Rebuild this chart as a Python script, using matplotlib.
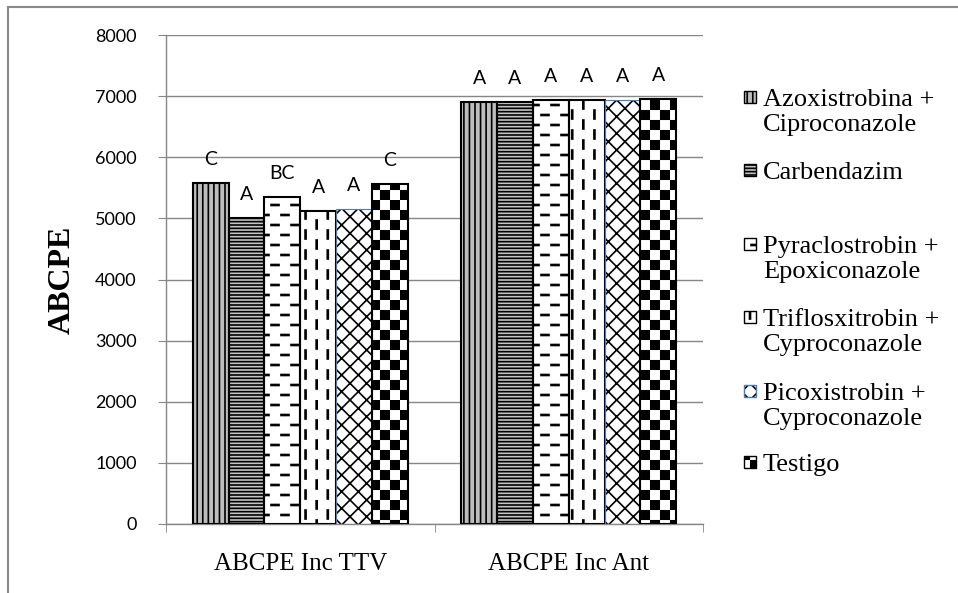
import warnings
import numpy as np
import matplotlib
matplotlib.use('Agg')
import matplotlib.pyplot as plt
from matplotlib import hatch as mhatch
from matplotlib.path import Path
from matplotlib.patches import Rectangle

warnings.filterwarnings('ignore')

categories = ['ABCPE Inc TTV', 'ABCPE Inc Ant']
treatments = ['Azoxistrobina +\nCiproconazole', 'Carbendazim',
              'Pyraclostrobin +\nEpoxiconazole', 'Triflosxitrobin +\nCyproconazole',
              'Picoxistrobin +\nCyproconazole', 'Testigo']
abcpe_ttv = [5575, 5010, 5355, 5125, 5150, 5560]
abcpe_ant = [6910, 6910, 6935, 6940, 6940, 6945]
letters_ttv = ['C', 'A', 'BC', 'A', 'A', 'C']
letters_ant = ['A', 'A', 'A', 'A', 'A', 'A']


# extra hatch fills: staggered dashes and a checkerboard, built from small polygons
class PolyHatch(mhatch.HatchPatternBase):
    char = ''

    def __init__(self, hatch, density):
        self.polys = self.polygons() if (hatch and self.char in hatch) else []
        self.num_vertices = 5 * len(self.polys)

    def set_vertices_and_codes(self, vertices, codes):
        for i, p in enumerate(self.polys):
            vertices[5 * i:5 * i + 4] = p
            vertices[5 * i + 4] = p[0]
            codes[5 * i] = Path.MOVETO
            codes[5 * i + 1:5 * i + 4] = Path.LINETO
            codes[5 * i + 4] = Path.CLOSEPOLY


def rect(x0, y0, x1, y1):
    return [(x0, y0), (x1, y0), (x1, y1), (x0, y1)]


class HDashHatch(PolyHatch):
    char = 'd'

    def polygons(self):
        out = []
        for r in range(10):
            y = (r + 0.5) / 10
            off = 0.0 if r % 2 == 0 else 0.1
            for c in range(5):
                x = c / 5 + off + 0.01
                out.append(rect(x, y - 0.005, x + 0.08, y + 0.005))
        return out


class VDashHatch(PolyHatch):
    char = 'v'

    def polygons(self):
        out = []
        for r in range(9):
            x = (r + 0.5) / 9
            off = 0.0 if r % 2 == 0 else 0.1
            for c in range(5):
                y = c / 5 + off + 0.01
                out.append(rect(x - 0.005, y, x + 0.005, y + 0.09))
        return out


class CheckerHatch(PolyHatch):
    char = 'c'

    def polygons(self):
        out = []
        for i in range(10):
            for j in range(10):
                if (i + j) % 2 == 0:
                    out.append(rect(i / 10 + 0.008, j / 10 + 0.008,
                                    (i + 1) / 10 - 0.008, (j + 1) / 10 - 0.008))
        return out


mhatch._hatch_types.extend([HDashHatch, VDashHatch, CheckerHatch])

plt.rcParams['hatch.linewidth'] = 1.2

hatches = ['|||', '-----', 'd', 'v', 'xx', 'c']
faces = ['#bdbdbd', '#c4c4c4', 'white', 'white', 'white', 'white']
edges = ['black', 'black', 'black', 'black', '#4a7ebb', 'black']
edge_w = [1.5, 1.5, 1.5, 1.5, 0.8, 1.5]

W, H = 958, 593
fig = plt.figure(figsize=(W / 100, H / 100), dpi=100)
ax = fig.add_axes([166 / W, 1 - 524 / H, (703 - 166) / W, (524 - 35) / H])

tick_font = 'Lato'
serif = 'Liberation Serif'
gray = '#868686'

x = np.arange(len(categories))
n = len(treatments)
width = 0.8 / n
for i in range(n):
    vals = [abcpe_ttv[i], abcpe_ant[i]]
    pos = x - 0.4 + width * (i + 0.5)
    ax.bar(pos, vals, width, color=faces[i], hatch=hatches[i], edgecolor='black',
           linewidth=0, zorder=2)
    ax.bar(pos, vals, width, fill=False, edgecolor=edges[i], linewidth=edge_w[i], zorder=3)
    for xp, v, lab in zip(pos, vals, [letters_ttv[i], letters_ant[i]]):
        ax.annotate(lab, (xp, v), xytext=(0, 13), textcoords='offset points',
                    ha='center', va='baseline', fontsize=14, family=tick_font)

ax.set_xlim(-0.5, 1.5)
ax.set_ylim(0, 8000)
ax.set_yticks(np.arange(0, 8001, 1000))
ax.yaxis.grid(True, color=gray, linewidth=1.0)
ax.set_axisbelow(True)
for s in ['top', 'right']:
    ax.spines[s].set_visible(False)
for s in ['left', 'bottom']:
    ax.spines[s].set_color(gray)
    ax.spines[s].set_linewidth(1.0)

ax.tick_params(axis='y', direction='out', length=6, color=gray, pad=15, labelsize=13)
for t in ax.get_yticklabels():
    t.set_family(tick_font)

ax.set_xticks(x)
ax.set_xticklabels(categories, family=serif, fontsize=18)
ax.set_xticks([-0.5, 0.5, 1.5], minor=True)
ax.tick_params(axis='x', which='major', length=0, pad=21)
ax.tick_params(axis='x', which='minor', length=6, color=gray, direction='out')

fig.text(62 / W, 1 - 280 / H, 'ABCPE', rotation=90, ha='center', va='center',
         family=serif, fontweight='bold', fontsize=23)

# legend drawn by hand so markers sit on the first line of each entry
rows = [97, 170, 244, 317, 391, 462]
for i, (lab, yc) in enumerate(zip(treatments, rows)):
    fig.add_artist(Rectangle((744 / W, 1 - (yc + 6) / H), 12 / W, 12 / H,
                             transform=fig.transFigure, facecolor=faces[i],
                             hatch=hatches[i], edgecolor='black', linewidth=0))
    fig.add_artist(Rectangle((744 / W, 1 - (yc + 6) / H), 12 / W, 12 / H,
                             transform=fig.transFigure, fill=False,
                             edgecolor=edges[i], linewidth=1.0))
    fig.text(763 / W, 1 - (yc - 8) / H, lab, ha='left', va='top', family=serif,
             fontsize=19, linespacing=1.2)

# outer frame
fig.add_artist(Rectangle((8 / W, -0.5), 2, 1.5 - 7 / H, transform=fig.transFigure,
                         fill=False, edgecolor='#8a8a8a', linewidth=1.5))

fig.savefig('out.png', dpi=100)
